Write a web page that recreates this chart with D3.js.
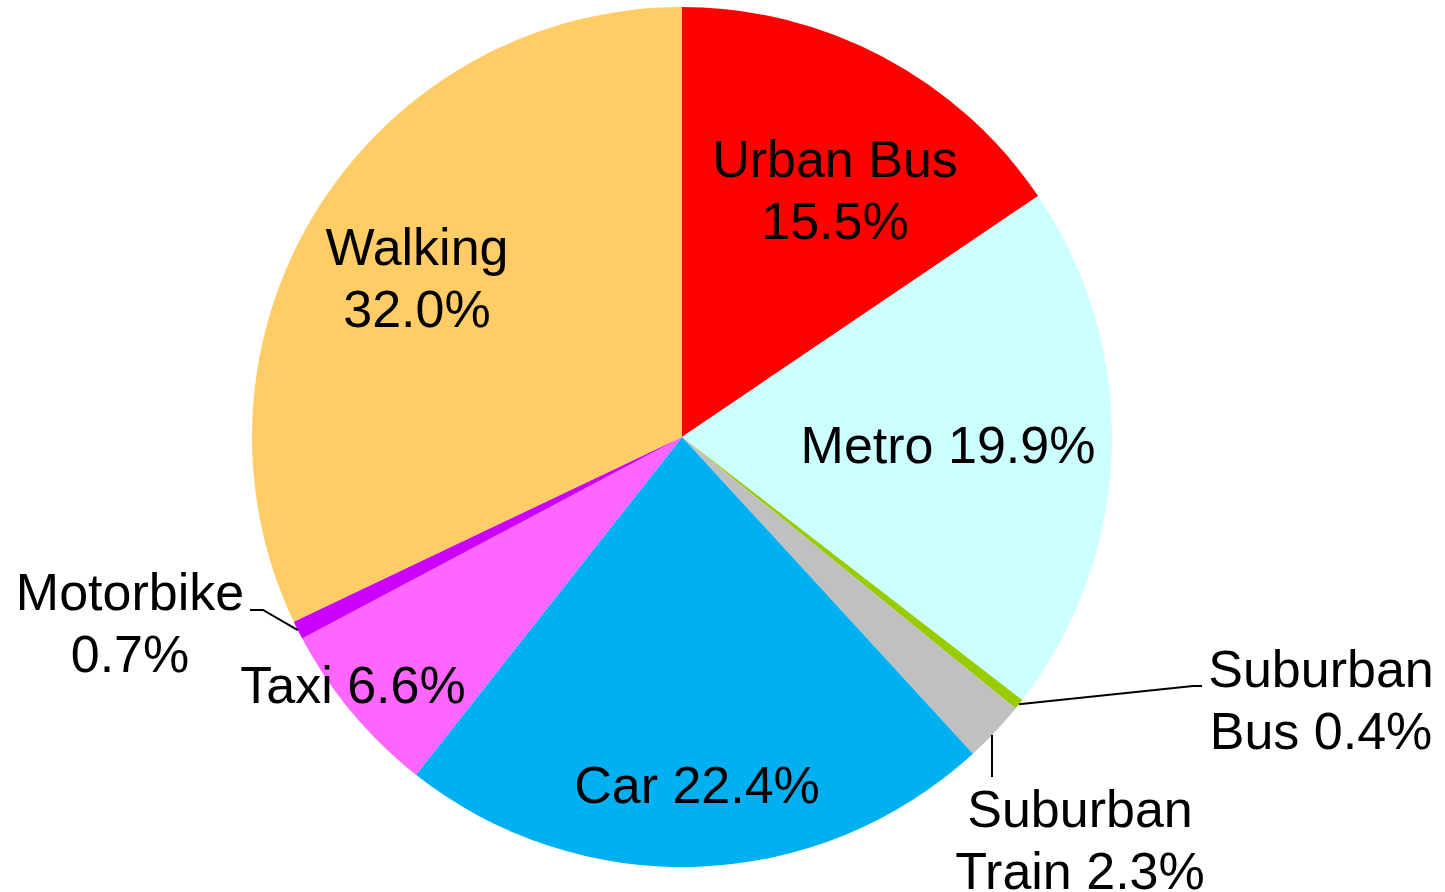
<!DOCTYPE html>
<html lang="en">
<head>
  <meta charset="UTF-8" />
  <title>Trips by transport mode</title>
  <script src="https://d3js.org/d3.v7.min.js"></script>
  <style>
    body {
      margin: 0;
      background: #fff;
      overflow: hidden;
    }

    svg {
      width: 1445px;
      height: 892px;
      display: block;
    }

    .label {
      font-family: "Liberation Sans", Arial, sans-serif;
      font-size: 52px;
      fill: #000;
    }

    .leader {
      fill: none;
      stroke: #000;
      stroke-width: 2px;
    }
  </style>
</head>
<body>
  <svg></svg>
  <script>
    // data, clockwise from 12 o'clock
    const modes = ["Urban Bus", "Metro", "Suburban Bus", "Suburban Train", "Car", "Taxi", "Motorbike", "Walking"];
    const shares = [15.5, 19.9, 0.4, 2.3, 22.4, 6.6, 0.7, 32.0];
    const colors = ["#ff0000", "#ccffff", "#99cc00", "#c0c0c0", "#00b0f0", "#ff66ff", "#cc00ff", "#ffcc66"];

    // how each label is broken into lines
    const labelLines = [
      ["Urban Bus", "15.5%"],
      ["Metro 19.9%"],
      ["Suburban", "Bus 0.4%"],
      ["Suburban", "Train 2.3%"],
      ["Car 22.4%"],
      ["Taxi 6.6%"],
      ["Motorbike", "0.7%"],
      ["Walking", "32.0%"]
    ];

    const width = 1445, height = 892;
    const cx = 682, cy = 437, radius = 430;
    const lineHeight = 62;

    // label centres relative to pie centre (layout only)
    const labelAt = {
      "Urban Bus": [153, -247],
      "Metro": [266, 8],
      "Suburban Bus": [639, 263],
      "Suburban Train": [398, 403],
      "Car": [15, 348],
      "Taxi": [-329, 248],
      "Motorbike": [-552, 186],
      "Walking": [-265, -159]
    };

    const data = modes.map((m, i) => ({ mode: m, value: shares[i], color: colors[i], lines: labelLines[i] }));

    const svg = d3.select("svg").attr("viewBox", `0 0 ${width} ${height}`);
    const g = svg.append("g").attr("transform", `translate(${cx},${cy})`);

    const pie = d3.pie().value(d => d.value).sort(null);
    const arc = d3.arc().innerRadius(0).outerRadius(radius);
    const edge = d3.arc().innerRadius(radius).outerRadius(radius);
    const arcs = pie(data);

    g.append("g")
      .selectAll("path")
      .data(arcs)
      .join("path")
      .attr("d", arc)
      .attr("fill", d => d.data.color);

    // leader lines for the thin slices
    const byMode = Object.fromEntries(arcs.map(a => [a.data.mode, a]));
    const leaders = [
      { mode: "Suburban Bus", pts: p => [p, [511, 249], [520, 249]] },
      { mode: "Suburban Train", pts: p => [[p[0] - 3, p[1] + 3], [p[0] - 3, 340]] },
      { mode: "Motorbike", pts: p => [p, [-419, 173], [-432, 173]] }
    ];

    g.append("g")
      .selectAll("path")
      .data(leaders)
      .join("path")
      .attr("class", "leader")
      .attr("d", d => d3.line()(d.pts(edge.centroid(byMode[d.mode]))));

    const labels = g.append("g")
      .selectAll("text")
      .data(arcs)
      .join("text")
      .attr("class", "label")
      .attr("text-anchor", "middle")
      .attr("transform", d => {
        const [x, y] = labelAt[d.data.mode];
        return `translate(${x},${y})`;
      });

    labels.selectAll("tspan")
      .data(d => d.data.lines.map((t, i, a) => ({ t, i, n: a.length })))
      .join("tspan")
      .attr("x", 0)
      .attr("y", d => (d.i - (d.n - 1) / 2) * lineHeight + 18)
      .text(d => d.t);
  </script>
</body>
</html>
